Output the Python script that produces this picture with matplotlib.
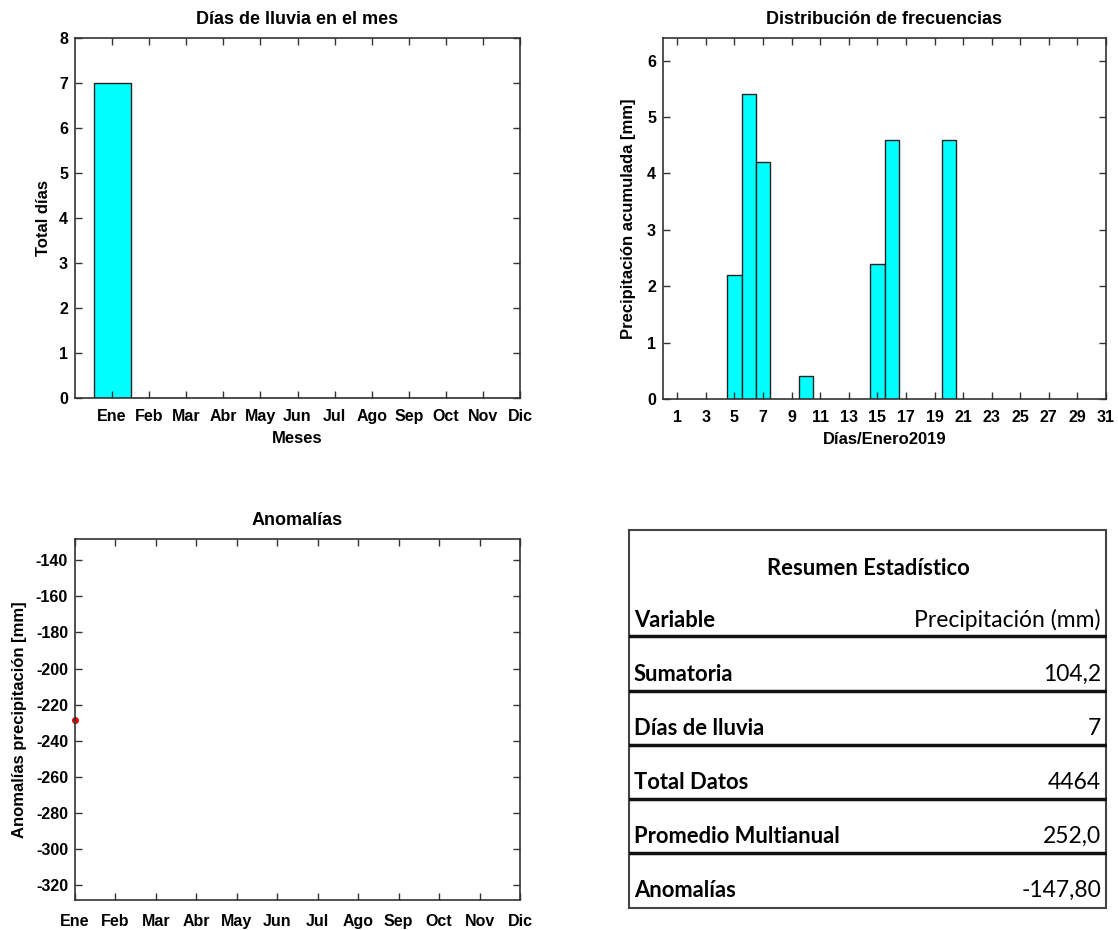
import matplotlib
matplotlib.use("Agg")
import matplotlib.pyplot as plt
from matplotlib.patches import Rectangle
from matplotlib.lines import Line2D

# ---- data ----
meses = ["Ene", "Feb", "Mar", "Abr", "May", "Jun", "Jul", "Ago", "Sep", "Oct", "Nov", "Dic"]
dias_lluvia_mes = [7, 0, 0, 0, 0, 0, 0, 0, 0, 0, 0, 0]

dias = [5, 6, 7, 10, 15, 16, 20]
precip_dia = [2.2, 5.4, 4.2, 0.4, 2.4, 4.6, 4.6]
dia_ticks = list(range(1, 32, 2))

anomalia_mes = ["Ene"]
anomalia_valor = [-228.2]

tabla_titulo = "Resumen Estadístico"
tabla_variables = ["Variable", "Sumatoria", "Días de lluvia", "Total Datos",
                   "Promedio Multianual", "Anomalías"]
tabla_valores = ["Precipitación (mm)", "104,2", "7", "4464", "252,0", "-147,80"]

# ---- style ----
plt.rcParams['font.family'] = ['Liberation Sans', 'DejaVu Sans']
plt.rcParams['axes.unicode_minus'] = False
W, H = 1118, 930
fig = plt.figure(figsize=(W / 100, H / 100), dpi=100)

def px_axes(l, t, r, b):
    return fig.add_axes([l / W, 1 - b / H, (r - l) / W, (b - t) / H])

def style(ax, xpad=8):
    ax.tick_params(direction='in', top=True, right=True, length=5, width=1,
                   labelsize=11.5, colors='#333333', labelcolor='black')
    ax.tick_params(axis='x', pad=xpad)
    ax.tick_params(axis='y', pad=5)
    for lab in ax.get_xticklabels() + ax.get_yticklabels():
        lab.set_fontweight('bold')
    for s in ax.spines.values():
        s.set_color('#333333')
        s.set_linewidth(1.2)

# Top-left: Días de lluvia en el mes
ax1 = px_axes(75, 38, 520, 398)
xpos = list(range(1, 13))
ax1.bar(xpos, dias_lluvia_mes, width=1.0, color='#00FFFF', edgecolor='#222222', linewidth=1)
ax1.set_xlim(0, 12)
ax1.set_ylim(0, 8)
ax1.set_xticks(xpos)
ax1.set_xticklabels(meses)
ax1.set_yticks(range(0, 9))
ax1.set_title("Días de lluvia en el mes", fontsize=13, fontweight='bold', pad=10)
ax1.set_xlabel("Meses", fontsize=12, fontweight='bold', labelpad=5)
ax1.set_ylabel("Total días", fontsize=12, fontweight='bold', labelpad=6)
style(ax1)

# Top-right: Distribución de frecuencias
ax2 = px_axes(663, 38, 1106, 399)
ax2.bar(dias, precip_dia, width=1.0, color='#00FFFF', edgecolor='#222222', linewidth=1)
ax2.set_xlim(0, 31)
ax2.set_ylim(0, 6.4)
ax2.set_xticks(dia_ticks)
ax2.set_yticks(range(0, 7))
ax2.set_title("Distribución de frecuencias", fontsize=13, fontweight='bold', pad=10)
ax2.set_xlabel("Días/Enero2019", fontsize=12, fontweight='bold', labelpad=5)
ax2.set_ylabel("Precipitación acumulada [mm]", fontsize=12, fontweight='bold', labelpad=8)
style(ax2)

# Bottom-left: Anomalías
ax3 = px_axes(75, 539, 520, 900)
xa = [meses.index(m) + 1 for m in anomalia_mes]
ax3.plot(xa, anomalia_valor, 'o', color='#E00000', markersize=4, clip_on=False)
ax3.set_xlim(1, 12)
ax3.set_ylim(anomalia_valor[0] - 100, anomalia_valor[0] + 100)
ax3.set_xticks(xpos)
ax3.set_xticklabels(meses)
ax3.set_yticks(range(-320, -139, 20))
ax3.set_title("Anomalías", fontsize=13, fontweight='bold', pad=10)
ax3.set_ylabel("Anomalías precipitación [mm]", fontsize=12, fontweight='bold', labelpad=6)
style(ax3, xpad=10)

# Bottom-right: summary table
L, T, R, B = 629, 529, 1107, 908
ax4 = px_axes(L, T, R, B)
ax4.set_xlim(L, R)
ax4.set_ylim(B, T)
ax4.axis('off')
ax4.add_patch(Rectangle((L + 0.5, T + 0.5), R - L - 1, B - T - 1, fill=False,
                        edgecolor='#444444', linewidth=1.5, clip_on=False))
tfont = ['Lato', 'DejaVu Sans']
ax4.text((L + R) / 2, 568, tabla_titulo, ha='center', va='center', fontsize=15.8,
         fontweight='bold', family=tfont)
row_y = [620, 674, 728, 782, 836, 890]
line_y = [636, 691, 745, 799, 853]
for i, (v, val) in enumerate(zip(tabla_variables, tabla_valores)):
    ax4.text(L + 5, row_y[i], v, ha='left', va='center', fontsize=15.8,
             fontweight='bold', family=tfont)
    ax4.text(R - 6, row_y[i], val, ha='right', va='center', fontsize=16.5,
             fontweight='normal', family=tfont)
for y in line_y:
    ax4.add_line(Line2D([L, R], [y, y], color='#111111', linewidth=2.5))

fig.savefig("out.png", dpi=100)
